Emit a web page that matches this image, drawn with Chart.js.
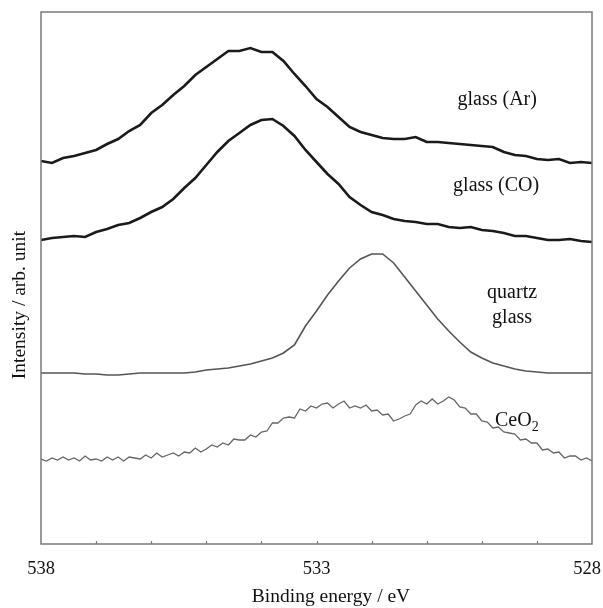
<!DOCTYPE html>
<html>
<head>
<meta charset="utf-8">
<script src="https://cdn.jsdelivr.net/npm/chart.js@4"></script>
<style>
  html, body { margin: 0; padding: 0; background: #fff; }
  canvas { display: block; }
</style>
</head>
<body>
<canvas id="xps" width="603" height="608"></canvas>
<script>
// O 1s spectra, binding energy runs 538 -> 528 eV (left to right)
// sampling grids: 0.2 eV for the glass spectra, 0.1 eV for CeO2
const energyStep2 = Array.from({ length: 51 }, (_, i) => +(538 - i * 0.2).toFixed(1));
const energyStep1 = Array.from({ length: 101 }, (_, i) => +(538 - i * 0.1).toFixed(1));

// intensities, arb. unit (curves already offset for stacking)
const glassAr = [
  383, 381, 386, 388, 391, 394, 400, 405, 413, 419,
  431, 439, 449, 458, 469, 477, 485, 493, 493, 496,
  492, 492, 483, 470, 458, 445, 437, 427, 417, 412,
  409, 406, 405, 405, 407, 402, 402, 401, 400, 399,
  398, 397, 392, 389, 388, 385, 384, 385, 381, 382, 381
];
const glassCO = [
  304, 306, 307, 308, 307, 312, 315, 319, 321, 326,
  332, 337, 345, 356, 366, 379, 392, 403, 411, 419,
  424, 425, 418, 408, 394, 382, 370, 360, 347, 339,
  332, 329, 325, 323, 322, 320, 320, 317, 316, 317,
  314, 313, 311, 308, 308, 306, 304, 304, 305, 303, 302
];
const quartzGlass = [
  171, 171, 171, 171, 170, 170, 169, 169, 170, 171,
  171, 171, 171, 171, 172, 174, 175, 176, 178, 180,
  183, 186, 191, 199, 218, 233, 249, 263, 276, 285,
  290, 290, 281, 267, 253, 239, 225, 213, 202, 192,
  186, 181, 178, 175, 173, 172, 171, 171, 171, 171, 171
];
const ceria = [
  85, 83, 86, 84, 87, 84, 86, 83, 88, 84,
  85, 83, 87, 84, 87, 83, 87, 86, 85, 89,
  86, 91, 87, 89, 91, 88, 92, 91, 96, 92,
  95, 99, 97, 101, 99, 105, 104, 104, 109, 107,
  112, 113, 121, 121, 126, 127, 126, 135, 133, 138,
  136, 140, 141, 136, 140, 143, 136, 138, 136, 139,
  133, 134, 129, 130, 123, 125, 128, 130, 139, 143,
  140, 145, 140, 143, 147, 144, 137, 136, 130, 130,
  123, 122, 116, 117, 112, 111, 110, 104, 105, 101,
  101, 94, 95, 91, 92, 86, 88, 88, 84, 86, 83
];

const xTicksShown = [538, 533, 528];

// curve captions: [text, subscript, energy, intensity, align]
const captions = [
  ['glass (Ar)', '', 529.72, 439, 'center'],
  ['glass (CO)', '', 529.74, 353, 'center'],
  ['quartz', '', 529.45, 246, 'center'],
  ['glass', '', 529.45, 221, 'center'],
  ['CeO', '2', 529.76, 118, 'left']
];

const SERIF = '"Liberation Serif", "Times New Roman", serif';

function pairs(xs, ys) {
  return ys.map((y, i) => ({ x: xs[i], y }));
}

const decor = {
  id: 'decor',
  afterDraw(chart) {
    const { ctx, chartArea: a, scales, width } = chart;
    const xs = scales.x, ys = scales.y;
    ctx.save();
    // frame
    ctx.strokeStyle = '#7a7a7a';
    ctx.lineWidth = 1.5;
    ctx.strokeRect(a.left, a.top, a.right - a.left, a.bottom - a.top);
    // small inward ticks every 1 eV
    ctx.lineWidth = 1.2;
    ctx.beginPath();
    xs.ticks.forEach(t => {
      if (t.value === 538 || t.value === 528) return;
      const px = Math.round(xs.getPixelForValue(t.value)) + 0.5;
      ctx.moveTo(px, a.bottom);
      ctx.lineTo(px, a.bottom - 3);
    });
    ctx.stroke();

    ctx.fillStyle = '#111';
    // tick labels, kept inside the canvas at the ends
    ctx.font = '18.5px ' + SERIF;
    ctx.textAlign = 'center';
    ctx.textBaseline = 'middle';
    xTicksShown.forEach(v => {
      const label = String(v);
      const half = ctx.measureText(label).width / 2;
      let px = xs.getPixelForValue(v);
      px = Math.min(Math.max(px, half + 1), width - half - 2);
      ctx.fillText(label, px, a.bottom + 25);
    });

    // captions
    ctx.textBaseline = 'alphabetic';
    captions.forEach(([text, sub, e, v, align]) => {
      const px = xs.getPixelForValue(e);
      const py = ys.getPixelForValue(v);
      ctx.font = '20px ' + SERIF;
      ctx.textAlign = align;
      ctx.fillText(text, px, py);
      if (sub) {
        const w = ctx.measureText(text).width;
        ctx.font = '14px ' + SERIF;
        ctx.textAlign = 'left';
        ctx.fillText(sub, px + w, py + 5);
      }
    });

    // axis titles
    ctx.font = '19.5px ' + SERIF;
    ctx.textAlign = 'center';
    ctx.textBaseline = 'middle';
    ctx.fillText('Binding energy / eV', 331, 597);
    ctx.translate(20, 305);
    ctx.rotate(-Math.PI / 2);
    ctx.fillText('Intensity / arb. unit', 0, 0);
    ctx.restore();
  }
};

new Chart(document.getElementById('xps'), {
  type: 'line',
  data: {
    datasets: [
      { label: 'glass (Ar)', data: pairs(energyStep2, glassAr), borderColor: '#1a1a1a', borderWidth: 2.6 },
      { label: 'glass (CO)', data: pairs(energyStep2, glassCO), borderColor: '#1a1a1a', borderWidth: 2.6 },
      { label: 'quartz glass', data: pairs(energyStep2, quartzGlass), borderColor: '#555', borderWidth: 1.6 },
      { label: 'CeO2', data: pairs(energyStep1, ceria), borderColor: '#666', borderWidth: 1.3 }
    ]
  },
  options: {
    responsive: false,
    animation: false,
    events: [],
    elements: { point: { radius: 0 }, line: { tension: 0, fill: false } },
    layout: { padding: { top: 12, right: 11, left: 0, bottom: 0 } },
    plugins: { legend: { display: false }, tooltip: { enabled: false } },
    scales: {
      x: {
        type: 'linear',
        reverse: true,
        min: 528,
        max: 538,
        border: { display: false },
        grid: { display: false },
        ticks: { stepSize: 1, display: false },
        afterFit: s => {
          s.height = 64;
          s.paddingLeft = 0;
          s.paddingRight = 0;
        }
      },
      y: {
        min: 0,
        max: 532,
        border: { display: false },
        grid: { display: false },
        ticks: { display: false },
        afterFit: s => { s.width = 41; }
      }
    }
  },
  plugins: [decor]
});
</script>
</body>
</html>
